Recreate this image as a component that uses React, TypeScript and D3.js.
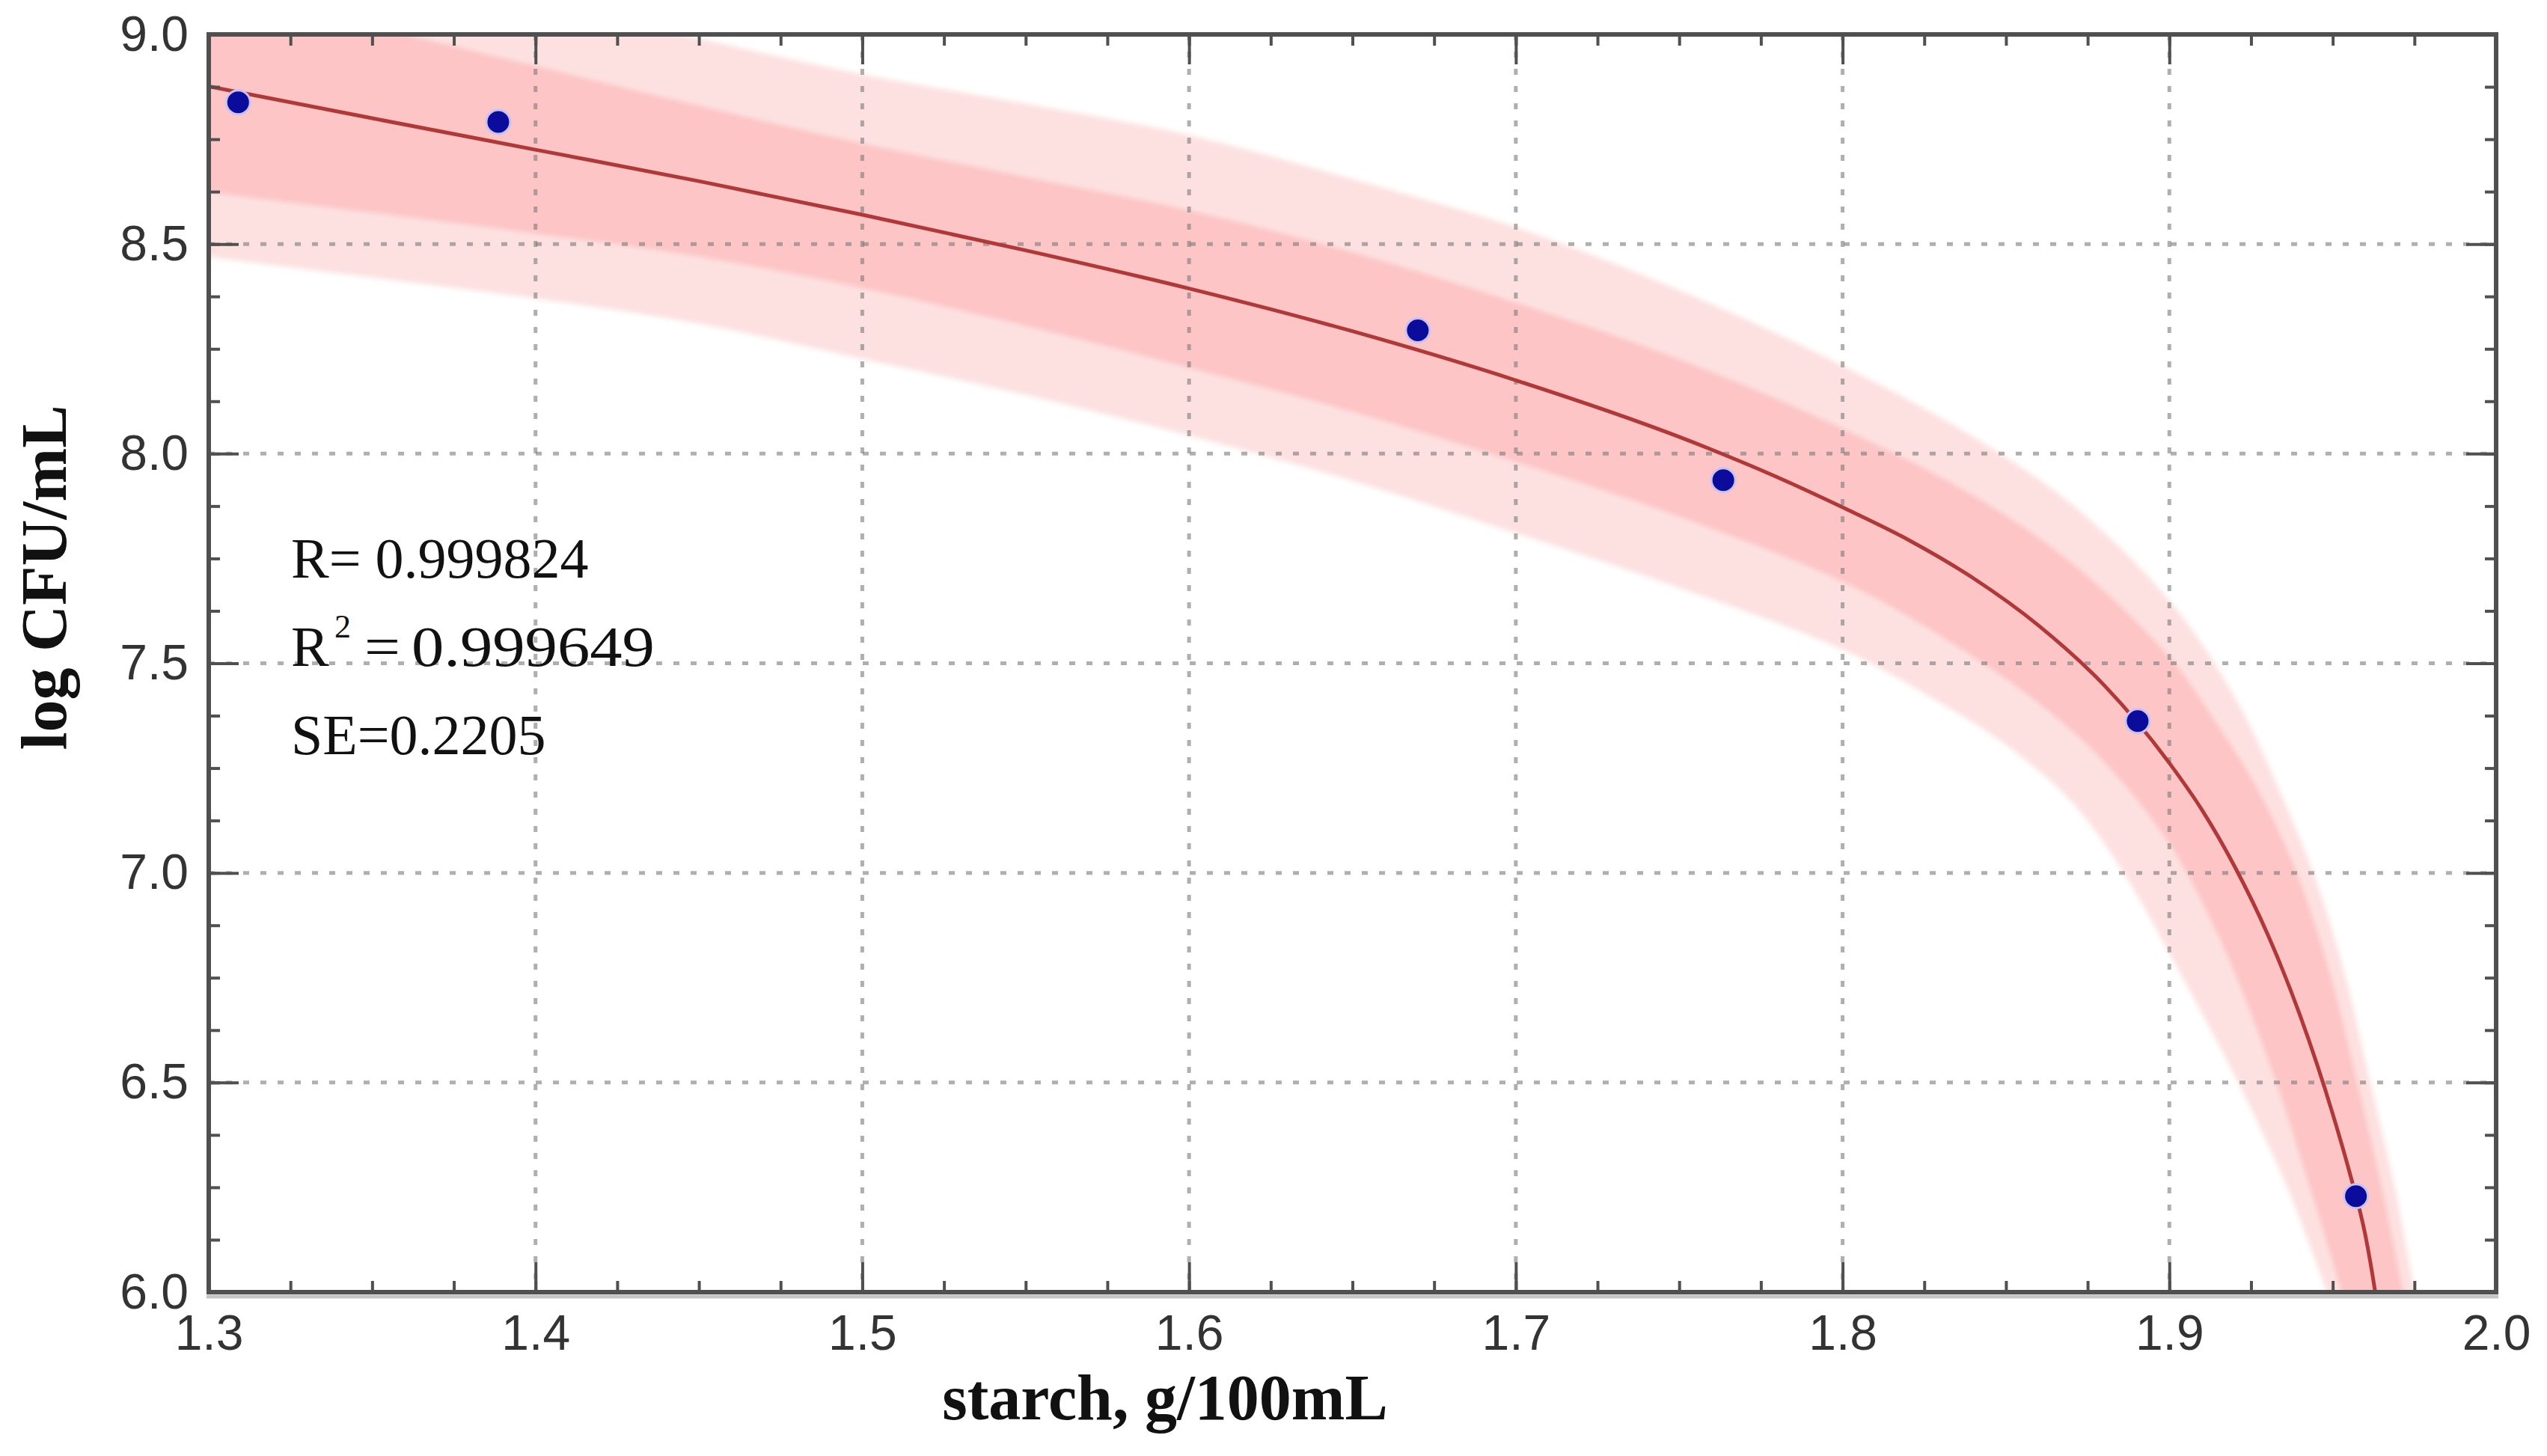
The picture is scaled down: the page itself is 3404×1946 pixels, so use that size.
import * as d3 from "d3";
import { useEffect, useRef } from "react";

const WIDTH = 3404;
const HEIGHT = 1946;
const margin = { top: 46, right: 68, bottom: 219, left: 279 };

// axis ticks
const xTicks = [1.3, 1.4, 1.5, 1.6, 1.7, 1.8, 1.9, 2.0];
const yTicks = [6.0, 6.5, 7.0, 7.5, 8.0, 8.5, 9.0];
const xGrid = [1.4, 1.5, 1.6, 1.7, 1.8, 1.9];
const yGrid = [6.5, 7.0, 7.5, 8.0, 8.5];

// measured points (starch, log CFU/mL)
const pointX = [1.309, 1.3886, 1.67, 1.7635, 1.8903, 1.9571];
const pointY = [8.838, 8.791, 8.294, 7.937, 7.362, 6.229];

// fitted curve
const fitX = [1.3, 1.35, 1.4, 1.45, 1.5, 1.55, 1.6, 1.65, 1.7, 1.75, 1.78, 1.8, 1.82, 1.84, 1.86, 1.88, 1.9, 1.91, 1.92, 1.93, 1.94, 1.95, 1.955, 1.96, 1.963, 1.965];
const fitY = [8.876, 8.8, 8.725, 8.65, 8.57, 8.485, 8.394, 8.292, 8.175, 8.04, 7.944, 7.872, 7.795, 7.703, 7.59, 7.448, 7.262, 7.15, 7.015, 6.855, 6.66, 6.425, 6.29, 6.135, 6.0, 5.89];

// outer (prediction) band edges
const outerUpper: [number, number][] = [
	[1.29, 9.3], [1.3, 9.28], [1.4, 9.08], [1.45, 8.99], [1.5, 8.905], [1.55, 8.835],
	[1.6, 8.76], [1.65, 8.655], [1.7, 8.54], [1.75, 8.39], [1.8, 8.21], [1.84, 8.04],
	[1.87, 7.88], [1.9, 7.65], [1.92, 7.42], [1.9335, 7.2], [1.945, 6.98], [1.954, 6.75],
	[1.9615, 6.5], [1.969, 6.25], [1.9752, 6.0], [1.978, 5.9],
];
const outerLower: [number, number][] = [
	[1.29, 8.485], [1.3, 8.47], [1.35, 8.42], [1.4, 8.37], [1.45, 8.31], [1.5, 8.226],
	[1.55, 8.14], [1.6, 8.043], [1.65, 7.935], [1.7, 7.81], [1.75, 7.68], [1.8, 7.532],
	[1.83, 7.405], [1.85, 7.305], [1.87, 7.17], [1.886, 7.0], [1.904, 6.75], [1.921, 6.5],
	[1.936, 6.25], [1.9482, 6.0], [1.953, 5.9],
];

// inner (confidence) band edges
const innerUpper: [number, number][] = [
	[1.29, 9.15], [1.3, 9.13], [1.35, 9.02], [1.4, 8.925], [1.45, 8.83], [1.5, 8.74],
	[1.55, 8.66], [1.6, 8.58], [1.65, 8.48], [1.7, 8.36], [1.75, 8.225], [1.8, 8.06],
	[1.84, 7.9], [1.87, 7.74], [1.9, 7.515], [1.915, 7.35], [1.927, 7.2], [1.939, 7.0],
	[1.9495, 6.75], [1.9575, 6.5], [1.965, 6.25], [1.9715, 6.0], [1.974, 5.9],
];
const innerLower: [number, number][] = [
	[1.29, 8.64], [1.3, 8.625], [1.35, 8.575], [1.4, 8.525], [1.45, 8.47], [1.5, 8.395],
	[1.55, 8.305], [1.6, 8.205], [1.65, 8.1], [1.7, 7.98], [1.75, 7.85], [1.8, 7.695],
	[1.83, 7.565], [1.86, 7.405], [1.88, 7.265], [1.9, 7.07], [1.915, 6.85], [1.93, 6.56],
	[1.943, 6.25], [1.9527, 6.0], [1.956, 5.9],
];

const statR = "R= 0.999824";
const statR2 = ["R", "2", "=", "0.999649"];
const statSE = "SE=0.2205";

const AXIS_COLOR = "#505050";
const TICK_FONT = "'Liberation Sans', Arial, sans-serif";
const SERIF = "'Liberation Serif', 'Times New Roman', serif";

export default function App() {
	const svgRef = useRef<SVGSVGElement>(null);

	useEffect(() => {
		if (!svgRef.current) return;
		const svg = d3.select(svgRef.current);
		svg.selectAll("*").remove();

		const innerW = WIDTH - margin.left - margin.right;
		const innerH = HEIGHT - margin.top - margin.bottom;

		const x = d3.scaleLinear().domain([1.3, 2.0]).range([0, innerW]);
		const y = d3.scaleLinear().domain([6, 9]).range([innerH, 0]);

		svg.append("rect").attr("width", WIDTH).attr("height", HEIGHT).attr("fill", "#fff");

		const defs = svg.append("defs");
		defs
			.append("clipPath")
			.attr("id", "plot-clip")
			.append("rect")
			.attr("width", innerW)
			.attr("height", innerH);
		defs
			.append("filter")
			.attr("id", "soft")
			.attr("x", "-5%")
			.attr("y", "-5%")
			.attr("width", "110%")
			.attr("height", "110%")
			.append("feGaussianBlur")
			.attr("stdDeviation", 3);

		const g = svg.append("g").attr("transform", `translate(${margin.left},${margin.top})`);
		const plot = g.append("g").attr("clip-path", "url(#plot-clip)");

		// Bands as closed polygons: upper edge forward, lower edge back
		const edge = d3
			.line<[number, number]>()
			.x((d) => x(d[0]))
			.y((d) => y(d[1]))
			.curve(d3.curveCatmullRom.alpha(0.5));
		const bandPath = (upper: [number, number][], lower: [number, number][]) =>
			`${edge(upper)}${(edge([...lower].reverse()) ?? "").replace(/^M/, "L")}Z`;

		plot
			.append("path")
			.attr("d", bandPath(outerUpper, outerLower))
			.attr("fill", "#fde1e1")
			.attr("filter", "url(#soft)");
		plot
			.append("path")
			.attr("d", bandPath(innerUpper, innerLower))
			.attr("fill", "#fdc5c5")
			.attr("filter", "url(#soft)");

		// Dotted grid
		const grid = plot
			.append("g")
			.attr("stroke", "#7a7a7a")
			.attr("stroke-opacity", 0.6)
			.attr("stroke-width", 5)
			.attr("stroke-dasharray", "8 15");
		grid
			.selectAll("line.gx")
			.data(xGrid)
			.enter()
			.append("line")
			.attr("class", "gx")
			.attr("x1", (d) => x(d))
			.attr("x2", (d) => x(d))
			.attr("y1", 0)
			.attr("y2", innerH);
		grid
			.selectAll("line.gy")
			.data(yGrid)
			.enter()
			.append("line")
			.attr("class", "gy")
			.attr("x1", 0)
			.attr("x2", innerW)
			.attr("y1", (d) => y(d))
			.attr("y2", (d) => y(d));

		// Fitted curve
		const fit = fitX.map((v, i) => [v, fitY[i]] as [number, number]);
		plot
			.append("path")
			.datum(fit)
			.attr(
				"d",
				d3
					.line<[number, number]>()
					.x((d) => x(d[0]))
					.y((d) => y(d[1]))
					.curve(d3.curveMonotoneX),
			)
			.attr("fill", "none")
			.attr("stroke", "#b03838")
			.attr("stroke-width", 5);

		// Points
		plot
			.selectAll("circle.pt")
			.data(pointX.map((v, i) => [v, pointY[i]]))
			.enter()
			.append("circle")
			.attr("class", "pt")
			.attr("cx", (d) => x(d[0]))
			.attr("cy", (d) => y(d[1]))
			.attr("r", 16)
			.attr("fill", "#0b0b9c")
			.attr("stroke", "#c9c2f2")
			.attr("stroke-width", 3);

		// Frame
		g.append("line")
			.attr("x1", -3)
			.attr("x2", innerW + 3)
			.attr("y1", innerH + 6)
			.attr("y2", innerH + 6)
			.attr("stroke", "#c4c4c4")
			.attr("stroke-width", 5);
		g.append("rect")
			.attr("width", innerW)
			.attr("height", innerH)
			.attr("fill", "none")
			.attr("stroke", AXIS_COLOR)
			.attr("stroke-width", 6);

		const xMinor = d3.range(1.3, 2.0001, 0.025);
		const yMinor = d3.range(6, 9.0001, 0.125);

		const styleAxis = (sel: d3.Selection<SVGGElement, unknown, null, undefined>) => {
			sel.select(".domain").remove();
			sel.selectAll(".tick line").attr("stroke", AXIS_COLOR).attr("stroke-width", 4);
			sel
				.selectAll(".tick text")
				.attr("fill", "#333")
				.attr("font-size", 66)
				.attr("font-family", TICK_FONT);
		};

		// bottom / left with labels
		g.append("g")
			.attr("transform", `translate(0,${innerH})`)
			.call(
				d3
					.axisBottom(x)
					.tickValues(xTicks)
					.tickFormat(d3.format(".1f"))
					.tickSize(-40)
					.tickPadding(30),
			)
			.call(styleAxis);
		g.append("g")
			.call(
				d3
					.axisLeft(y)
					.tickValues(yTicks)
					.tickFormat(d3.format(".1f"))
					.tickSize(-40)
					.tickPadding(27),
			)
			.call(styleAxis);
		// top / right ticks only
		g.append("g")
			.call(d3.axisTop(x).tickValues(xTicks).tickFormat(() => "").tickSize(-40))
			.call(styleAxis);
		g.append("g")
			.attr("transform", `translate(${innerW},0)`)
			.call(d3.axisRight(y).tickValues(yTicks).tickFormat(() => "").tickSize(-40))
			.call(styleAxis);

		// minor ticks on all sides
		g.append("g")
			.attr("transform", `translate(0,${innerH})`)
			.call(d3.axisBottom(x).tickValues(xMinor).tickFormat(() => "").tickSize(-15))
			.call(styleAxis);
		g.append("g")
			.call(d3.axisTop(x).tickValues(xMinor).tickFormat(() => "").tickSize(-15))
			.call(styleAxis);
		g.append("g")
			.call(d3.axisLeft(y).tickValues(yMinor).tickFormat(() => "").tickSize(-15))
			.call(styleAxis);
		g.append("g")
			.attr("transform", `translate(${innerW},0)`)
			.call(d3.axisRight(y).tickValues(yMinor).tickFormat(() => "").tickSize(-15))
			.call(styleAxis);

		// Axis titles
		svg.append("text")
			.attr("x", 1557)
			.attr("y", 1897)
			.attr("text-anchor", "middle")
			.attr("font-family", SERIF)
			.attr("font-weight", "bold")
			.attr("font-size", 86)
			.attr("fill", "#111")
			.text("starch, g/100mL");

		svg.append("text")
			.attr("transform", "translate(88,772) rotate(-90)")
			.attr("text-anchor", "middle")
			.attr("font-family", SERIF)
			.attr("font-weight", "bold")
			.attr("font-size", 86)
			.attr("fill", "#111")
			.text("log CFU/mL");

		// Fit statistics
		const stats = svg
			.append("g")
			.attr("font-family", SERIF)
			.attr("font-size", 76)
			.attr("fill", "#111");
		stats.append("text").attr("x", 389).attr("y", 772).text(statR);

		// R² row is drawn wider in the original
		stats.append("text").attr("x", 389).attr("y", 890).text(statR2[0]);
		stats
			.append("text")
			.attr("x", 447)
			.attr("y", 852)
			.attr("font-size", 44)
			.text(statR2[1]);
		stats
			.append("text")
			.attr("transform", "translate(487,890) scale(1.12,1)")
			.text(statR2[2]);
		stats
			.append("text")
			.attr("transform", "translate(550,890) scale(1.14,1)")
			.text(statR2[3]);

		stats.append("text").attr("x", 389).attr("y", 1008).text(statSE);
	}, []);

	return (
		<svg
			ref={svgRef}
			width={WIDTH}
			height={HEIGHT}
			style={{ position: "absolute", left: 0, top: 0, display: "block" }}
		/>
	);
}
